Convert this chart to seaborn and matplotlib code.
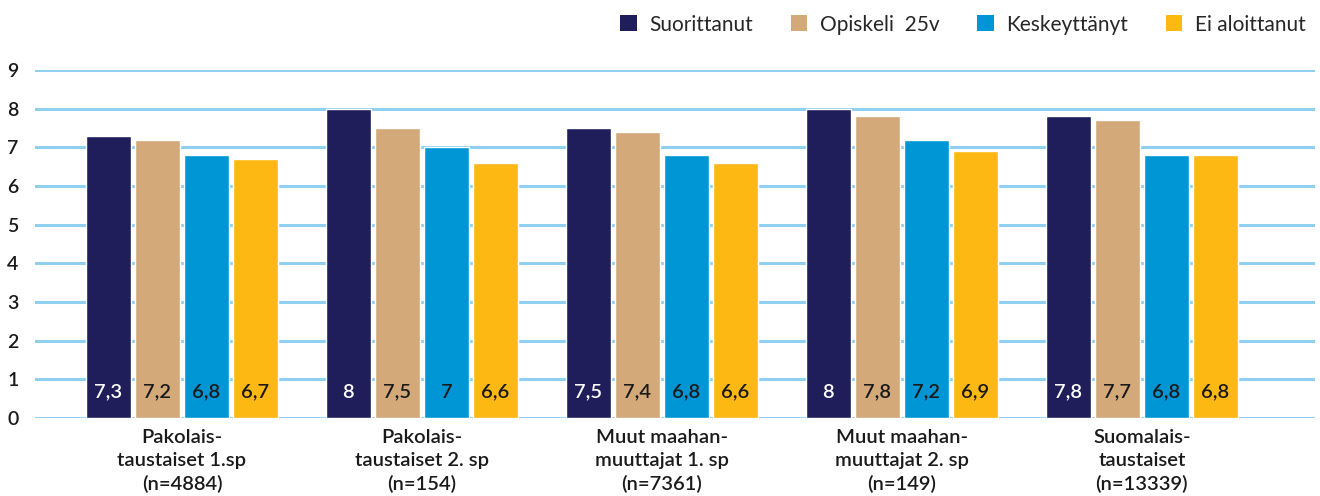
import matplotlib
matplotlib.use("Agg")
import matplotlib.pyplot as plt
import seaborn as sns
import pandas as pd
from matplotlib.patches import Patch

groups = ["Pakolais-\ntaustaiset 1.sp\n(n=4884)",
          "Pakolais-\ntaustaiset 2. sp\n(n=154)",
          "Muut maahan-\nmuuttajat 1. sp\n(n=7361)",
          "Muut maahan-\nmuuttajat 2. sp\n(n=149)",
          "Suomalais-\ntaustaiset\n(n=13339)"]
series = ["Suorittanut", "Opiskeli  25v", "Keskeyttänyt", "Ei aloittanut"]
suorittanut = [7.3, 8.0, 7.5, 8.0, 7.8]
opiskeli = [7.2, 7.5, 7.4, 7.8, 7.7]
keskeyttanyt = [6.8, 7.0, 6.8, 7.2, 6.8]
ei_aloittanut = [6.7, 6.6, 6.6, 6.9, 6.8]
yticks = list(range(0, 10))

colors = ["#201E5A", "#D3A97A", "#0096D6", "#FDB813"]
text_colors = ["white", "#1a1a1a", "#1a1a1a", "#1a1a1a"]

values = [suorittanut, opiskeli, keskeyttanyt, ei_aloittanut]
rows = []
for s, vals in zip(series, values):
    for g, v in zip(groups, vals):
        rows.append({"group": g, "series": s, "value": v})
df = pd.DataFrame(rows)

sns.set_theme(style="white")
plt.rcParams['font.family'] = ['Lato', 'DejaVu Sans']

fig = plt.figure(figsize=(13.2, 4.96), dpi=100)
ax = fig.add_axes([0.0265, 0.157, 0.9695, 0.702])

sns.barplot(data=df, x="group", y="value", hue="series", order=groups,
            hue_order=series, palette=colors, width=0.817, gap=0.08,
            saturation=1, ax=ax, legend=False, zorder=3)

for i, cont in enumerate(ax.containers):
    for bar, v in zip(cont, values[i]):
        lab = f"{v:.1f}".replace(".", ",")
        if lab.endswith(",0"):
            lab = lab[:-2]
        ax.text(bar.get_x() + bar.get_width() / 2, 0.67, lab,
                ha="center", va="center", fontsize=14.5, fontweight="semibold",
                color=text_colors[i], zorder=4)

ax.set_ylim(0, 9)
ax.set_xlim(-0.6125, 4.72)
ax.set_yticks(yticks)
ax.set_yticklabels([str(t) for t in yticks], fontsize=14, color="#1a1a1a",
                   fontweight="semibold")
ax.yaxis.grid(True, color="#8FD0F0", linewidth=2.2, zorder=0)
ax.set_axisbelow(True)
for sp in ax.spines.values():
    sp.set_visible(False)
ax.tick_params(axis="both", length=0)
ax.tick_params(axis="y", pad=12)
ax.tick_params(axis="x", pad=8)
ax.set_xticklabels(groups, fontsize=14.5, color="#1a1a1a", linespacing=1.4,
                   fontweight="semibold")
ax.set_xlabel("")
ax.set_ylabel("")

handles = [Patch(facecolor=c, edgecolor="none") for c in colors]
fig.legend(handles, series, loc="upper right", bbox_to_anchor=(1.0, 1.0),
           ncol=4, frameon=False, fontsize=15, handlelength=0.8,
           handleheight=0.8, handletextpad=0.6, columnspacing=1.8,
           borderaxespad=0.3)

fig.savefig("out.png", dpi=100)
